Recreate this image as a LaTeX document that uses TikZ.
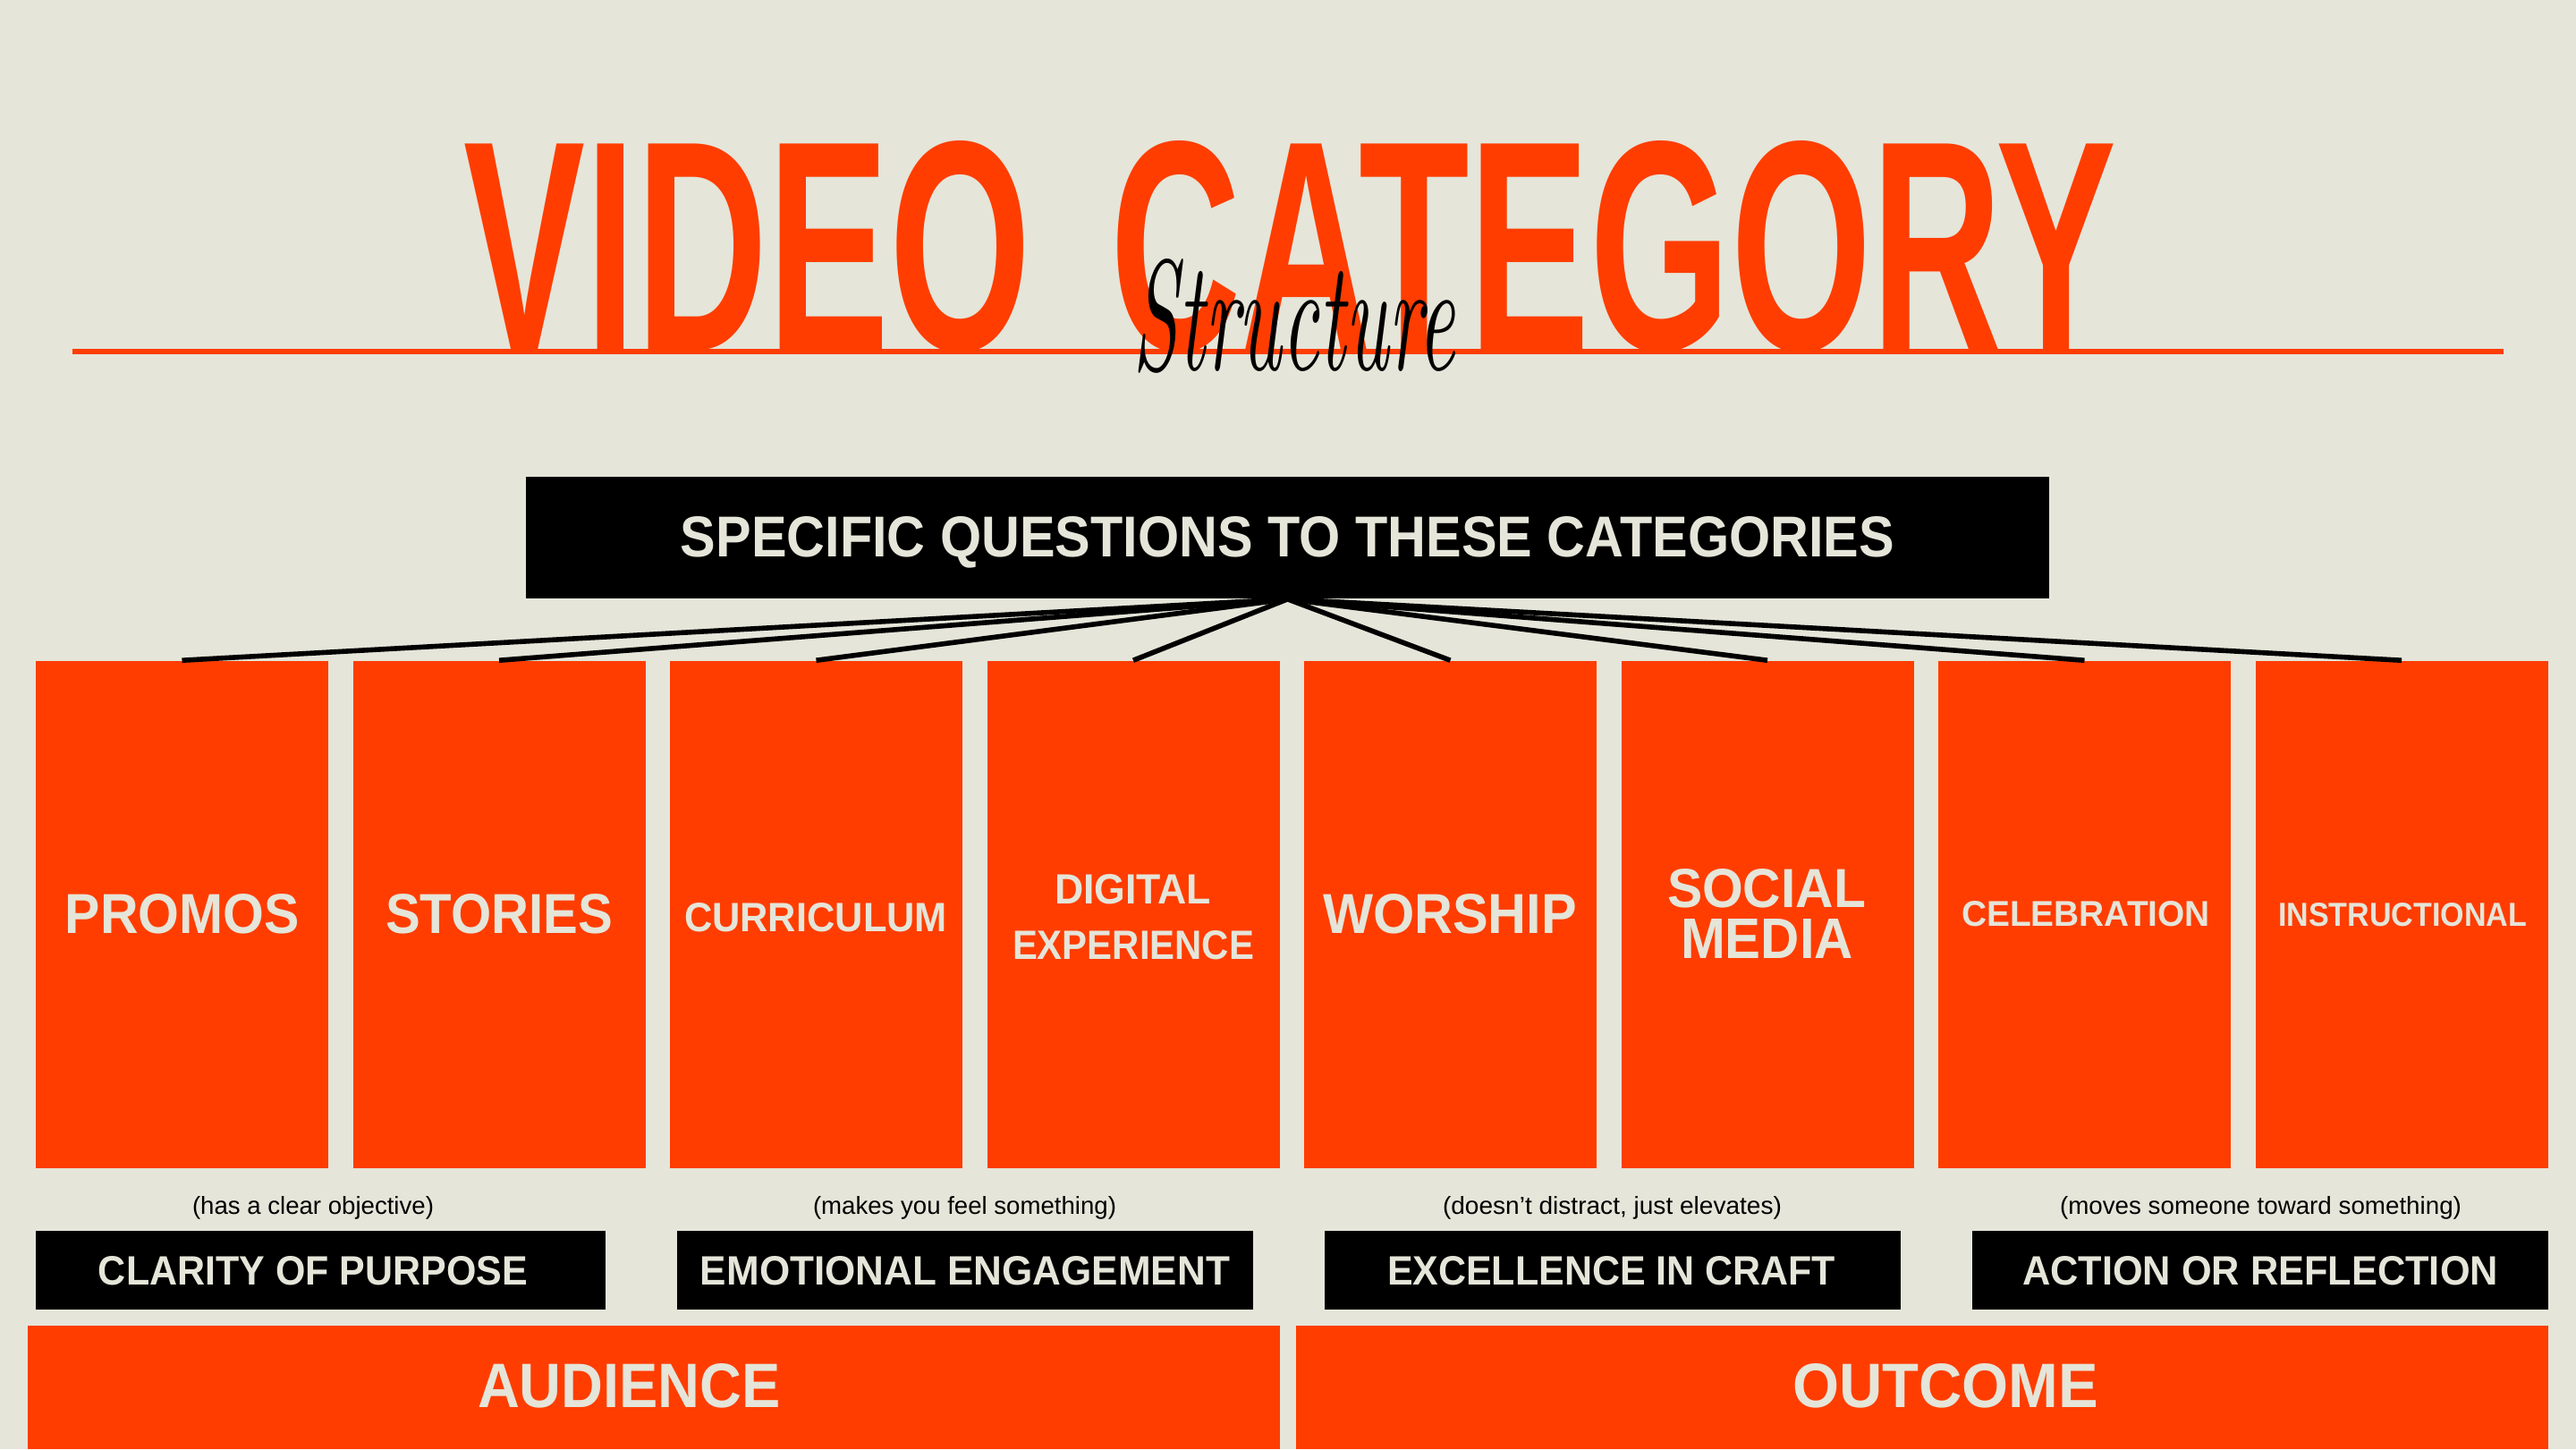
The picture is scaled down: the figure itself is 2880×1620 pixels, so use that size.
\documentclass[tikz,border=0pt]{standalone}
\usepackage{fontspec}
\setsansfont{Liberation Sans}
\renewcommand{\familydefault}{\sfdefault}
\usepackage{graphicx}
\newdimen\px \px=0.25pt
\newcommand{\fitt}[3]{\resizebox{#1\px}{#2\px}{\bfseries #3}}
\newcommand{\fitr}[3]{\resizebox{#1\px}{#2\px}{#3}}
\definecolor{bg}{HTML}{E5E5D9}
\definecolor{org}{HTML}{FF3D00}
\begin{document}
\begin{tikzpicture}[x=0.25pt,y=-0.25pt,
  catbox/.style={fill=org, inner sep=0pt, minimum width=327*0.25pt, minimum height=567*0.25pt},
  blackbox/.style={fill=black, inner sep=0pt, minimum height=88*0.25pt},
  bigbox/.style={fill=org, inner sep=0pt, minimum width=1400*0.25pt, minimum height=138*0.25pt},
  lbl/.style={text=bg, inner sep=0pt, anchor=base},
  captxt/.style={text=black, inner sep=0pt, anchor=base},
  conn/.style={draw=black, line width=1.4pt}]
\fill[bg] (0,0) rectangle (2880,1620);
\useasboundingbox (0,0) rectangle (2880,1620);
% title
\node[inner sep=0pt, anchor=base west, text=org] (t1) at (518,391) {\fitt{634}{234}{VIDEO}};
\node[inner sep=0pt, anchor=base west, text=org] (t2) at (1241,391) {\fitt{1124}{234}{CATEGORY}};
\fill[org] (81,390) rectangle (2799,396);
\node[inner sep=0pt, anchor=base west, text=black] (scr) at (1266,413) {\resizebox{360\px}{124\px}{\rmfamily\itshape Structure}};
% header
\node[fill=black, inner sep=0pt, minimum width=1703*0.25pt, minimum height=136*0.25pt] (hdr) at (1439.5,601) {};
\node[lbl] (hdrt) at (1439.5,622) {\fitt{1357}{45}{SPECIFIC QUESTIONS TO THESE CATEGORIES}};
% category boxes
\foreach \i in {0,...,7}{
  \node[catbox] (b\i) at ({203.5+354.5*\i},1022.5) {};
}
\foreach \i in {0,...,7}{
  \draw[conn] (hdr.south) -- (b\i.north);
}
\node[lbl] (l0) at (204,1043) {\fitt{262}{44}{PROMOS}};
\node[lbl] (l1) at (558,1043) {\fitt{254}{44}{STORIES}};
\node[lbl] (l2) at (912,1041) {\fitt{294}{32}{CURRICULUM}};
\node[lbl] (l3a) at (1266.5,1010.7) {\fitt{175}{33}{DIGITAL}};
\node[lbl] (l3b) at (1267,1072) {\fitt{270}{32}{EXPERIENCE}};
\node[lbl] (l4) at (1621,1043) {\fitt{284}{44}{WORSHIP}};
\node[lbl] (l5a) at (1975,1014) {\fitt{222}{43}{SOCIAL}};
\node[lbl] (l5b) at (1975.5,1071) {\fitt{193}{44}{MEDIA}};
\node[lbl] (l6) at (2332,1035) {\fitt{278}{28}{CELEBRATION}};
\node[lbl] (l7) at (2686,1035) {\fitt{278}{26}{INSTRUCTIONAL}};
% captions
\node[captxt] (c1) at (350,1357) {\fitr{270}{20}{(has a clear objective)}};
\node[captxt] (c2) at (1078.5,1357) {\fitr{339}{20}{(makes you feel something)}};
\node[captxt] (c3) at (1802.5,1357) {\fitr{379}{20}{(doesn’t distract, just elevates)}};
\node[captxt] (c4) at (2527.5,1357) {\fitr{449}{20}{(moves someone toward something)}};
% black boxes
\node[blackbox, minimum width=637*0.25pt] (k1) at (358.5,1420) {};
\node[blackbox, minimum width=644*0.25pt] (k2) at (1079,1420) {};
\node[blackbox, minimum width=644*0.25pt] (k3) at (1803,1420) {};
\node[blackbox, minimum width=644*0.25pt] (k4) at (2527,1420) {};
\node[lbl] (k1t) at (350,1436) {\fitt{480}{32}{CLARITY OF PURPOSE}};
\node[lbl] (k2t) at (1079,1436) {\fitt{592}{32}{EMOTIONAL ENGAGEMENT}};
\node[lbl] (k3t) at (1801.5,1436) {\fitt{501}{32}{EXCELLENCE IN CRAFT}};
\node[lbl] (k4t) at (2527,1436) {\fitt{532}{32}{ACTION OR REFLECTION}};
% bottom boxes
\node[bigbox] (aud) at (731,1551) {};
\node[bigbox] (out) at (2149,1551) {};
\node[lbl] (audt) at (703.5,1573) {\fitt{339}{49}{AUDIENCE}};
\node[lbl] (outt) at (2175,1573) {\fitt{342}{49}{OUTCOME}};
\end{tikzpicture}
\end{document}
